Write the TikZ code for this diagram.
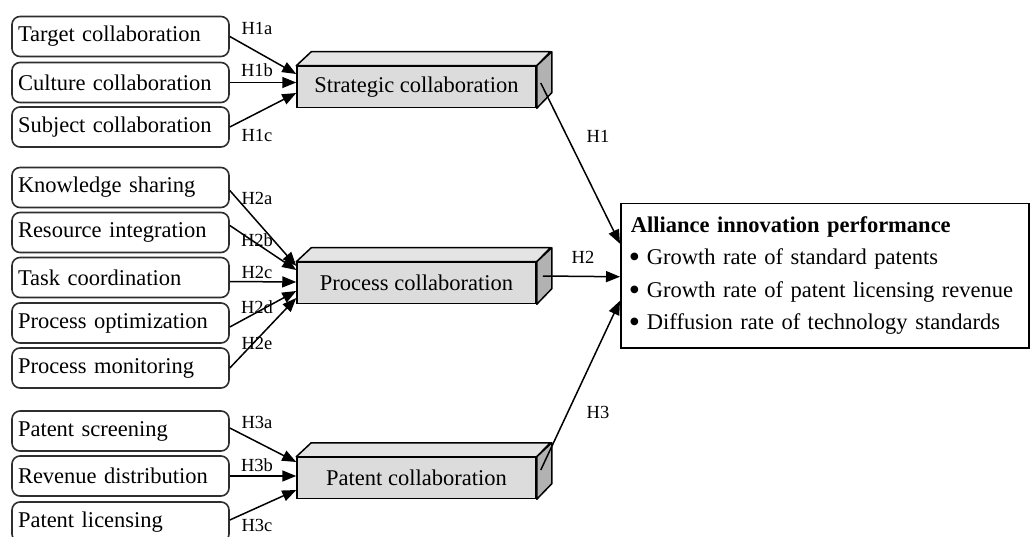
\documentclass[tikz,border=0pt]{standalone}
\usepackage{fontspec}
\setmainfont{Liberation Serif}
\usetikzlibrary{arrows.meta,calc}
\definecolor{frontgray}{HTML}{DCDCDC}
\definecolor{topgray}{HTML}{E4E4E4}
\definecolor{sidegray}{HTML}{B2B2B2}
\definecolor{edgegray}{HTML}{2E2E2E}
\newcommand{\bigbul}{{\fontsize{32}{20}\selectfont\raisebox{-3pt}{\textbullet}}\hspace{7pt}}
\tikzset{
  itembox/.style={draw=edgegray, line width=1.6pt, rounded corners=8pt, fill=white,
    minimum width=217pt, minimum height=40pt, text width=205pt, align=left,
    inner xsep=6pt, inner ysep=0pt, font=\fontsize{22.5}{26}\selectfont},
  facebox/.style={draw=black, line width=1.5pt, fill=frontgray,
    minimum width=239pt, minimum height=41pt, inner sep=0pt,
    font=\fontsize{22.5}{26}\selectfont},
  hlabel/.style={font=\fontsize{18.5}{20}\selectfont, inner sep=1pt},
  arr/.style={line width=1.5pt, -{Triangle[length=14pt,width=11pt]}},
  outbox/.style={draw=black, line width=1.5pt, fill=white, minimum width=408pt,
    minimum height=144pt, text width=392pt, align=left, inner xsep=8pt, inner ysep=0pt,
    font=\fontsize{22.5}{32.5}\selectfont}
}
\newcommand{\cuboid}[1]{%
  \draw[line width=1.5pt, fill=topgray, line join=round] (#1.north west) -- ++(15,-14) -- ++(239,0) -- (#1.north east) -- cycle;
  \draw[line width=1.5pt, fill=sidegray, line join=round] (#1.north east) -- ++(15,-14) -- ++(0,41) -- (#1.south east) -- cycle;
}
\begin{document}
\begin{tikzpicture}[x=1pt,y=-1pt]
\clip (0,0) rectangle (1030,537);
\fill[white] (0,0) rectangle (1030,537);

% left boxes
\node[itembox] (tc) at (120.5,36.5) {Target collaboration};
\node[itembox] (cc) at (120.5,82.5) {Culture collaboration};
\node[itembox] (sc) at (120.5,127) {Subject collaboration};

\node[itembox] (ks) at (120.5,187.5) {Knowledge sharing};
\node[itembox] (ri) at (120.5,232.5) {Resource integration};
\node[itembox] (tk) at (120.5,277.5) {Task coordination};
\node[itembox] (po) at (120.5,323) {Process optimization};
\node[itembox] (pm) at (120.5,368) {Process monitoring};

\node[itembox] (ps) at (120.5,431) {Patent screening};
\node[itembox] (rd) at (120.5,476) {Revenue distribution};
\node[itembox] (pl) at (120.5,522) {Patent licensing};

% 3D boxes
\node[facebox] (s) at (416.5,87) {Strategic collaboration};
\cuboid{s}
\node[facebox] (p) at (416.5,283) {Process collaboration};
\cuboid{p}
\node[facebox] (t) at (416.5,478) {Patent collaboration};
\cuboid{t}

% outcome box
\node[outbox, anchor=north west] (r) at (620,203) {\hspace{2pt}\textbf{Alliance innovation performance}\\
\bigbul Growth rate of standard patents\\
\bigbul Growth rate of patent licensing revenue\\
\bigbul Diffusion rate of technology standards};

% group 1 arrows
\draw[arr] (tc.east) -- ([yshift=13pt]s.west);
\draw[arr] (cc.east) -- (s.west |- cc.east);
\draw[arr] (sc.east) -- ([yshift=-6pt]s.west);
\node[hlabel] (l1a) at (257,28) {H1a};
\node[hlabel] (l1b) at (257,70) {H1b};
\node[hlabel] (l1c) at (257,135) {H1c};

% group 2 arrows
\draw[arr] ([yshift=-3pt]ks.east) -- ([yshift=17pt]p.west);
\draw[arr] ([yshift=7pt]ri.east) -- ([yshift=13pt]p.west);
\draw[arr] ([yshift=-4pt]tk.east) -- ([yshift=1pt]p.west);
\draw[arr] ([yshift=-4pt]po.east) -- ([yshift=-8pt]p.west);
\draw[arr] (pm.east) -- ([yshift=-15pt]p.west);
\node[hlabel] (l2a) at (257,198) {H2a};
\node[hlabel] (l2b) at (257,240) {H2b};
\node[hlabel] (l2c) at (257,272) {H2c};
\node[hlabel] (l2d) at (257,307) {H2d};
\node[hlabel] (l2e) at (257,343) {H2e};

% group 3 arrows
\draw[arr] ([yshift=3pt]ps.east) -- ([yshift=16pt]t.west);
\draw[arr] (rd.east) -- (t.west |- rd.east);
\draw[arr] ([yshift=2pt]pl.east) -- ([yshift=-12pt]t.west);
\node[hlabel] (l3a) at (257,422) {H3a};
\node[hlabel] (l3b) at (257,465) {H3b};
\node[hlabel] (l3c) at (257,525) {H3c};

% right arrows
\draw[arr] ([xshift=4pt,yshift=4pt]s.east) -- ([yshift=32pt]r.west);
\draw[arr] ([xshift=6pt,yshift=7pt]p.east) -- ([yshift=-1pt]r.west);
\draw[arr] ([xshift=4pt,yshift=8pt]t.east) -- ([yshift=-25pt]r.west);
\node[hlabel] (lh1) at (598,136) {H1};
\node[hlabel] (lh2) at (583,257) {H2};
\node[hlabel] (lh3) at (598,412) {H3};
\end{tikzpicture}
\end{document}
